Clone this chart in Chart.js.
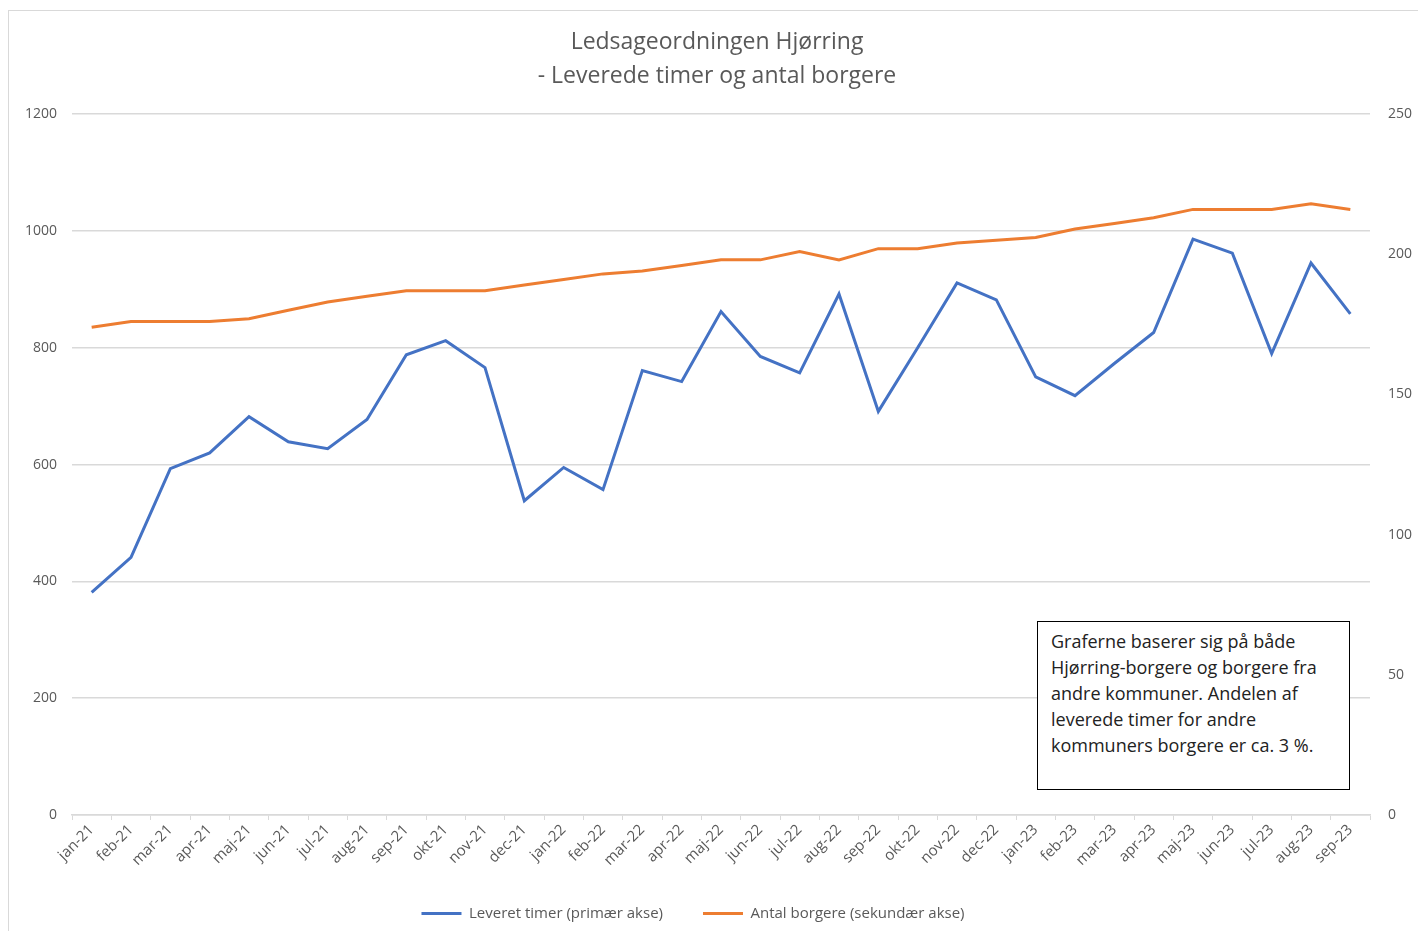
<!DOCTYPE html>
<html>
<head>
<meta charset="utf-8">
<script src="https://cdn.jsdelivr.net/npm/chart.js@4/dist/chart.umd.min.js"></script>
<style>
  html, body { margin: 0; padding: 0; background: #fff; overflow: hidden; }
  body { width: 1418px; height: 931px; position: relative; }
  #frame { position: absolute; left: 8px; top: 10px; width: 1420px; height: 930px; border: 1px solid #d9d9d9; box-sizing: border-box; }
  #wrap { position: absolute; left: 8px; top: 10px; width: 1418px; height: 921px; }
  #note {
    position: absolute; left: 1037px; top: 621px; width: 313px; height: 169px;
    box-sizing: border-box; border: 1.5px solid #000; background: #fff;
    padding: 6px 0 0 13px; font-family: "Open Sans", sans-serif; font-size: 18px;
    line-height: 26px; color: #222;
  }
</style>
</head>
<body>
<div id="frame"></div>
<div id="wrap"><canvas id="chart" width="1418" height="921"></canvas></div>
<div id="note">Graferne baserer sig på både<br>Hjørring-borgere og borgere fra<br>andre kommuner. Andelen af<br>leverede timer for andre<br>kommuners borgere er ca. 3 %.</div>
<script>
// måneder
var months = ["jan-21", "feb-21", "mar-21", "apr-21", "maj-21", "jun-21", "jul-21", "aug-21", "sep-21", "okt-21", "nov-21", "dec-21",
  "jan-22", "feb-22", "mar-22", "apr-22", "maj-22", "jun-22", "jul-22", "aug-22", "sep-22", "okt-22", "nov-22", "dec-22",
  "jan-23", "feb-23", "mar-23", "apr-23", "maj-23", "jun-23", "jul-23", "aug-23", "sep-23"];

// leverede timer (primær akse)
var timer = [381, 441, 593, 620, 682, 639, 627, 677, 788, 812, 766, 538,
  595, 557, 761, 742, 862, 785, 757, 892, 691, 800, 911, 882,
  750, 718, 773, 826, 986, 962, 790, 945, 858];

// antal borgere (sekundær akse)
var borgere = [174, 176, 176, 176, 177, 180, 183, 185, 187, 187, 187, 189,
  191, 193, 194, 196, 198, 198, 201, 198, 202, 202, 204, 205,
  206, 209, 211, 213, 216, 216, 216, 218, 216];

var leftTicks = [0, 200, 400, 600, 800, 1000, 1200];
var rightTicks = [0, 50, 100, 150, 200, 250];

var grey = "#595959";
var tickFont = { family: "Open Sans", size: 14 };

function plainTick(value) {
  return String(value);
}

// flytter legenden lidt mod venstre, som i Excel-udgaven
var legendShift = {
  id: "legendShift",
  afterLayout: function (chart) {
    if (chart.legend) {
      chart.legend.left -= 24;
      chart.legend.right -= 24;
    }
  },
};

new Chart(document.getElementById("chart"), {
  type: "line",
  plugins: [legendShift],
  data: {
    labels: months,
    datasets: [
      {
        label: "Leveret timer (primær akse)",
        data: timer,
        borderColor: "#4472C4",
        backgroundColor: "#4472C4",
        borderWidth: 3,
        pointRadius: 0,
        tension: 0,
        yAxisID: "y",
      },
      {
        label: "Antal borgere (sekundær akse)",
        data: borgere,
        borderColor: "#ED7D31",
        backgroundColor: "#ED7D31",
        borderWidth: 3,
        pointRadius: 0,
        tension: 0,
        yAxisID: "y1",
      },
    ],
  },
  options: {
    responsive: false,
    animation: false,
    maintainAspectRatio: false,
    layout: { padding: { left: 0, right: 0, top: 0, bottom: 0 } },
    plugins: {
      title: {
        display: true,
        text: ["Ledsageordningen Hjørring", "- Leverede timer og antal borgere"],
        color: grey,
        font: { family: "Open Sans", size: 23, weight: "normal", lineHeight: 1.48 },
        padding: { top: 15, bottom: 21 },
      },
      legend: {
        position: "bottom",
        labels: {
          color: grey,
          font: { family: "Open Sans", size: 15 },
          boxWidth: 40,
          boxHeight: 3,
          padding: 40,
          generateLabels: function (chart) {
            var items = Chart.defaults.plugins.legend.labels.generateLabels(chart);
            items.forEach(function (it) { it.lineWidth = 0; });
            return items;
          },
        },
      },
      tooltip: { enabled: false },
    },
    scales: {
      x: {
        offset: true,
        grid: { display: true, offset: true, drawOnChartArea: false, drawTicks: true, tickLength: 5, color: "#d9d9d9" },
        border: { display: true, color: "#d9d9d9", width: 1.5 },
        ticks: { color: grey, font: { family: "Open Sans", size: 15 }, maxRotation: 45, minRotation: 45, autoSkip: false, padding: 1 },
        afterFit: function (scale) { scale.height = 51; },
      },
      y: {
        position: "left",
        min: 0,
        max: 1200,
        afterBuildTicks: function (scale) { scale.ticks = leftTicks.map(function (v) { return { value: v }; }); },
        grid: { color: "#d9d9d9", lineWidth: 1.5, drawTicks: false },
        border: { display: false },
        ticks: { color: grey, font: tickFont, padding: 15, callback: plainTick },
        afterFit: function (scale) { scale.width = 64; },
      },
      y1: {
        position: "right",
        min: 0,
        max: 250,
        afterBuildTicks: function (scale) { scale.ticks = rightTicks.map(function (v) { return { value: v }; }); },
        grid: { drawOnChartArea: false, drawTicks: false },
        border: { display: false },
        ticks: { color: grey, font: tickFont, padding: 18, callback: plainTick },
        afterFit: function (scale) { scale.width = 56; },
      },
    },
  },
});
</script>
</body>
</html>
